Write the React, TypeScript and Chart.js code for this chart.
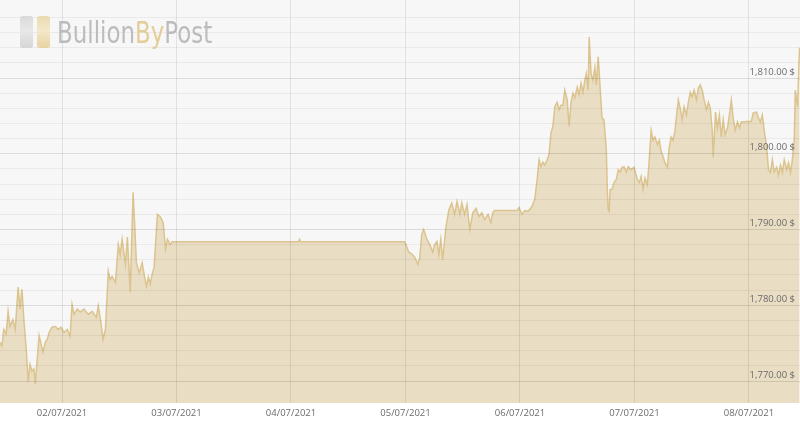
import React, { useEffect, useRef } from 'react';
import { Chart, registerables } from 'chart.js';
Chart.register(...registerables);

// hours since 01/07/2021 00:00
const hours = [
  11.0, 11.4, 11.8, 12.3, 12.7, 13.1, 13.7, 14.2, 14.8, 15.2, 15.6, 16.0, 16.5, 16.9, 17.3, 17.7, 18.1, 18.4, 18.8, 19.2,
  19.6, 20.0, 20.5, 20.9, 21.3, 21.9, 22.6, 23.2, 23.8, 24.4, 25.1, 25.7, 26.1, 26.5, 27.2, 27.8, 28.6, 29.5, 30.3, 31.2,
  31.6, 32.2, 32.6, 33.1, 33.7, 34.1, 34.5, 35.2, 35.8, 36.2, 36.6, 37.3, 37.7, 38.3, 38.9, 39.6, 40.2, 40.8, 41.2, 41.7,
  42.1, 42.5, 42.9, 43.3, 44.0, 44.6, 45.2, 45.7, 46.1, 46.7, 47.1, 73.6, 73.8, 74.0, 95.8,
  96.1, 96.7, 97.3, 97.9, 98.6, 99.0, 99.4, 99.8, 100.5, 101.1, 101.7, 102.1, 102.6, 103.0, 103.4, 103.8, 104.5, 105.1,
  105.7, 106.3, 106.8, 107.4, 107.8, 108.4, 108.9, 109.3, 109.5, 110.1, 110.8, 111.4, 112.0, 112.6, 113.3, 113.9, 114.3,
  114.7, 119.4, 119.8, 120.4, 121.0, 121.7, 122.5, 123.1, 123.6, 124.0, 124.4, 124.8, 125.2, 125.7, 126.1, 126.5, 126.9,
  127.3, 127.8, 128.2, 128.6, 129.0, 129.4, 129.9, 130.3, 130.7, 131.1, 131.5, 132.0, 132.4, 132.8, 133.2, 133.6, 133.9,
  134.3, 134.5, 134.9, 135.3, 135.7, 136.0, 136.4, 136.8, 137.2, 137.6, 138.1, 138.3, 138.5, 138.7, 138.9, 139.3, 139.7,
  140.2, 140.6, 141.0, 141.4, 141.8, 142.3, 142.7, 143.3, 143.9, 144.6, 145.0, 145.4, 145.8, 146.2, 146.7, 147.1, 147.5,
  147.9, 148.3, 148.8, 149.2, 149.6, 150.0, 150.4, 150.9, 151.3, 151.7, 152.1, 152.5, 152.8, 153.2, 153.6, 154.0, 154.4,
  154.9, 155.3, 155.7, 156.1, 156.5, 157.0, 157.4, 157.8, 158.2, 158.6, 159.1, 159.5, 159.9, 160.3, 160.5, 161.0, 161.4,
  161.8, 162.2, 162.6, 163.0, 163.5, 163.9, 164.3, 164.7, 165.1, 165.6, 166.0, 166.4, 168.5, 168.9, 169.6, 170.0, 170.4,
  170.8, 171.2, 171.7, 172.1, 172.5, 172.9, 173.3, 173.8, 174.2, 174.6, 175.0, 175.4, 175.9, 176.3, 176.7, 177.1, 177.5,
  177.7, 178.2, 178.4, 178.6,
];

const prices = [
  1775.1, 1774.6, 1776.8, 1776.2, 1779.2, 1777.2, 1778.1, 1776.8, 1782.4, 1779.5, 1782.1, 1778.1, 1774.2, 1769.9, 1772.2, 1771.3, 1771.6, 1769.6, 1772.9, 1776.0,
  1774.9, 1773.8, 1775.1, 1775.5, 1776.4, 1777.1, 1777.2, 1776.8, 1777.1, 1776.4, 1776.8, 1775.9, 1780.1, 1778.8, 1779.5, 1779.1, 1779.5, 1778.8, 1779.2, 1778.4,
  1779.9, 1777.5, 1775.5, 1776.8, 1784.5, 1783.4, 1783.8, 1783.0, 1788.0, 1786.7, 1788.7, 1785.4, 1789.0, 1781.7, 1794.9, 1785.6, 1784.3, 1785.6, 1784.1, 1782.5,
  1783.7, 1782.8, 1784.1, 1785.0, 1792.0, 1791.7, 1790.9, 1787.4, 1788.7, 1788.0, 1788.4, 1788.4, 1788.7, 1788.4, 1788.4,
  1788.0, 1787.0, 1786.8, 1786.4, 1785.4, 1786.3, 1789.3, 1790.0, 1788.7, 1788.0, 1787.0, 1788.0, 1788.4, 1786.7, 1788.7, 1786.0, 1790.4, 1792.6,
  1793.5, 1792.0, 1793.7, 1792.0, 1793.5, 1792.0, 1793.3, 1791.0, 1790.0, 1792.2, 1792.8, 1791.7, 1792.2, 1791.3, 1792.0, 1790.9, 1792.2,
  1792.5, 1792.5, 1792.9, 1792.0, 1792.5, 1792.4, 1793.0, 1794.0, 1796.6, 1799.2, 1798.3, 1798.9, 1798.5, 1799.2, 1799.9, 1802.8, 1803.6,
  1806.2, 1806.8, 1805.8, 1806.4, 1806.4, 1808.4, 1807.1, 1803.6, 1806.8, 1808.0, 1807.4, 1808.8, 1807.8, 1809.3, 1808.1, 1809.7, 1810.6,
  1808.4, 1815.4, 1810.6, 1809.7, 1811.4, 1809.1, 1812.8, 1808.7, 1804.7, 1804.5, 1800.5, 1795.3, 1792.6, 1792.4, 1795.3, 1795.3, 1796.2,
  1796.6, 1797.9, 1797.6, 1798.2, 1798.3, 1797.6, 1798.3, 1797.9, 1798.2, 1796.6, 1796.2, 1797.0, 1795.3, 1796.8, 1795.9, 1799.2, 1803.1,
  1801.8, 1802.2, 1801.2, 1801.8, 1800.3, 1799.6, 1798.8, 1798.2, 1800.9, 1802.2, 1801.8, 1803.1, 1804.9, 1807.1, 1806.0, 1804.5, 1806.2,
  1805.1, 1806.8, 1808.1, 1807.5, 1808.4, 1807.1, 1808.7, 1809.1, 1808.4, 1807.1, 1805.8, 1806.8, 1806.0, 1803.1, 1799.5, 1805.5, 1803.4,
  1805.1, 1802.2, 1804.5, 1802.5, 1803.4, 1805.1, 1807.1, 1804.7, 1803.1, 1804.2, 1803.4, 1804.2, 1804.3, 1805.4, 1805.5, 1804.7, 1804.2,
  1805.1, 1803.1, 1800.9, 1797.9, 1797.5, 1799.2, 1797.6, 1798.2, 1797.2, 1798.5, 1797.5, 1799.2, 1797.9, 1798.8, 1797.5, 1799.2, 1801.8,
  1808.4, 1806.2, 1810.4, 1814.0,
];

const dayTicks = [24, 48, 72, 96, 120, 144, 168];
const dayLabels = ['02/07/2021', '03/07/2021', '04/07/2021', '05/07/2021', '06/07/2021', '07/07/2021', '08/07/2021'];

const xMin = 11;
const xMax = 178.7;
const yMin = 1767.1;
const yMax = 1820.3;

const plotBg = {
  id: 'plotBg',
  beforeDraw(chart: any) {
    const { ctx, chartArea } = chart;
    ctx.save();
    ctx.fillStyle = '#f7f7f7';
    ctx.fillRect(chartArea.left, chartArea.top, chartArea.right - chartArea.left, chartArea.bottom - chartArea.top);
    ctx.restore();
  },
};

export default function App() {
  const ref = useRef<HTMLCanvasElement | null>(null);

  useEffect(() => {
    document.body.style.margin = '0';
    const canvas = ref.current;
    if (!canvas) return;
    const chart = new Chart(canvas, {
      type: 'line',
      data: {
        datasets: [
          {
            data: hours.map((h, i) => ({ x: h, y: prices[i] })),
            borderColor: '#dcc48f',
            borderWidth: 1.5,
            backgroundColor: '#e9ddc4',
            fill: 'start',
            pointRadius: 0,
            tension: 0,
          },
        ],
      },
      options: {
        animation: false,
        responsive: false,
        maintainAspectRatio: false,
        layout: { padding: { left: 0, right: 0, top: 0, bottom: 0 } },
        plugins: { legend: { display: false }, tooltip: { enabled: false } },
        scales: {
          x: {
            type: 'linear',
            min: xMin,
            max: xMax,
            afterBuildTicks: (s: any) => {
              s.ticks = dayTicks.map((v) => ({ value: v }));
            },
            afterFit: (s: any) => {
              s.paddingLeft = 0;
              s.paddingRight = 0;
              s.height = 21;
            },
            ticks: {
              autoSkip: false,
              maxRotation: 0,
              padding: 5,
              color: '#6b6b6b',
              font: { family: '"Open Sans"', size: 9.5 },
              z: 2,
              callback: (v: any) => {
                const i = dayTicks.indexOf(Number(v));
                return i >= 0 ? dayLabels[i] : '';
              },
            },
            grid: { color: 'rgba(0,0,0,0.085)', drawTicks: false, lineWidth: 1, z: 1 },
            border: { display: false },
          },
          y: {
            type: 'linear',
            position: 'right',
            min: yMin,
            max: yMax,
            afterBuildTicks: (s: any) => {
              s.ticks = s.ticks.filter(
                (t: any) => Math.abs(t.value - Math.round(t.value)) < 1e-6 && Math.round(t.value) % 2 === 0
              );
            },
            afterFit: (s: any) => {
              s.paddingTop = 0;
              s.paddingBottom = 0;
              s.width = 0;
            },
            ticks: {
              stepSize: 2,
              mirror: true,
              padding: -5,
              labelOffset: -6,
              color: '#6b6b6b',
              font: { family: '"Open Sans"', size: 9.5 },
              z: 2,
              callback: (v: any) => {
                const n = Math.round(Number(v));
                if (n % 10 !== 0 || n >= 1820) return '';
                return n.toLocaleString('en-US', { minimumFractionDigits: 2, maximumFractionDigits: 2 }) + ' $';
              },
            },
            grid: {
              drawTicks: false,
              z: 1,
              color: (c: any) => (Math.round(c.tick.value) % 10 === 0 ? 'rgba(0,0,0,0.11)' : 'rgba(0,0,0,0.05)'),
            },
            border: { display: false },
          },
        },
      },
      plugins: [plotBg],
    });
    return () => chart.destroy();
  }, []);

  return (
    <div style={{ position: 'fixed', left: 0, top: 0, width: 800, height: 424, background: '#fff' }}>
      <canvas ref={ref} width={800} height={424} style={{ display: 'block' }} />
      <div
        style={{
          position: 'absolute',
          left: 20,
          top: 16,
          width: 13,
          height: 32,
          borderRadius: 3,
          background: 'linear-gradient(180deg, #d6d6d6 0%, #e6e6e6 45%, #d2d2d2 100%)',
          opacity: 0.9,
        }}
      />
      <div
        style={{
          position: 'absolute',
          left: 37,
          top: 16,
          width: 13,
          height: 32,
          borderRadius: 3,
          background: 'linear-gradient(180deg, #ead7a8 0%, #f3e6c4 45%, #e6cf98 100%)',
          opacity: 0.9,
        }}
      />
      <div
        style={{
          position: 'absolute',
          left: 57,
          top: 18,
          fontFamily: '"DejaVu Sans Condensed", "DejaVu Sans", sans-serif',
          fontStretch: 'condensed',
          fontSize: 30,
          lineHeight: '30px',
          color: '#bcbcbe',
          whiteSpace: 'nowrap',
          transform: 'scaleX(0.85)',
          transformOrigin: 'left top',
        }}
      >
        Bullion<span style={{ color: '#e3cd98' }}>By</span>Post
      </div>
    </div>
  );
}
